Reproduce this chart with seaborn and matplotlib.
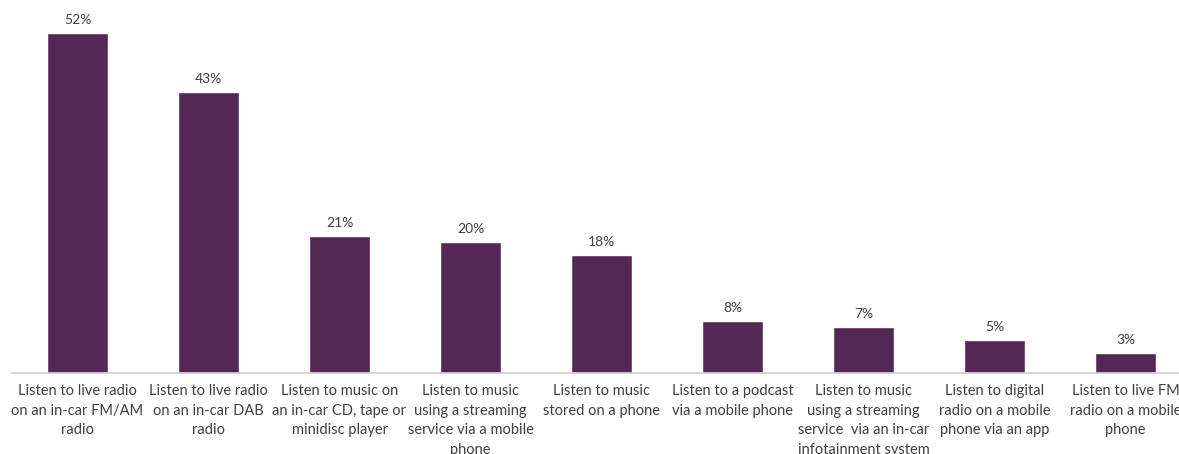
import matplotlib
matplotlib.use('Agg')
import matplotlib.pyplot as plt
import seaborn as sns
import pandas as pd
import numpy as np

# Data
activities = [
    "Listen to live radio\non an in-car FM/AM\nradio",
    "Listen to live radio\non an in-car DAB\nradio",
    "Listen to music on\nan in-car CD, tape or\nminidisc player",
    "Listen to music\nusing a streaming\nservice via a mobile\nphone",
    "Listen to music\nstored on a phone",
    "Listen to a podcast\nvia a mobile phone",
    "Listen to music\nusing a streaming\nservice  via an in-car\ninfotainment system",
    "Listen to digital\nradio on a mobile\nphone via an app",
    "Listen to live FM\nradio on a mobile\nphone",
]
shares = [52, 43, 21, 20, 18, 8, 7, 5, 3]

df = pd.DataFrame({'activity': activities, 'share': shares})

sns.set_style('white')
plt.rcParams['font.family'] = ['Lato', 'DejaVu Sans']

W, H = 1179, 454
fig = plt.figure(figsize=(W / 100, H / 100), dpi=100)
# axes runs past the right edge, like the original (last label is clipped)
ax = fig.add_axes([12 / W, 81 / H, 1179 / W, 360 / H])

sns.barplot(data=df, x='activity', y='share', color='#542855', width=0.47,
            saturation=1, ax=ax)

ax.bar_label(ax.containers[0], fmt='%d%%', padding=5, fontsize=10, color='#404040')

ax.set_xlim(-0.5, len(activities) - 0.5)
ax.set_ylim(0, 55)
ax.set_xlabel('')
ax.set_ylabel('')
ax.set_yticks([])

for s in ['top', 'right', 'left']:
    ax.spines[s].set_visible(False)
ax.spines['bottom'].set_color('#d0d0d0')
ax.spines['bottom'].set_linewidth(1.2)

ax.set_xticks(range(len(activities)))
ax.set_xticklabels(activities, fontsize=10.5, color='#404040', linespacing=1.5)
ax.tick_params(axis='x', which='major', length=0, pad=8)
ax.set_xticks(np.arange(-0.5, len(activities), 1), minor=True)
ax.tick_params(axis='x', which='minor', length=5, width=1.2, color='#d0d0d0', direction='out')

plt.savefig('out.png', dpi=100)
plt.close()
